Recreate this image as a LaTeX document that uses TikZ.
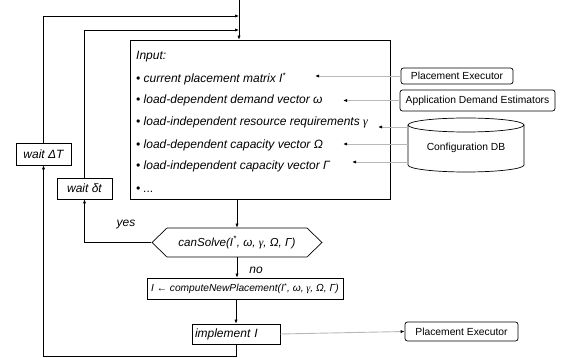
\documentclass[tikz,border=0pt]{standalone}
\usepackage{fontspec}
\setmainfont{Liberation Sans}
\newfontfamily\gamfont{Liberation Serif}
\usetikzlibrary{arrows.meta,shapes.symbols}
\newcommand{\gam}{{\gamfont\itshape γ}}
\newcommand{\Ist}{I\textsuperscript{*}}

\begin{document}
\begin{tikzpicture}[x=1pt,y=-1pt,
  every node/.style={font=\fontsize{12}{14}\selectfont\itshape},
  flow/.style={draw, line width=0.7pt, inner sep=0pt},
  item/.style={anchor=west, inner sep=0pt},
  ext/.style={draw, rounded corners=2.5pt, line width=0.7pt, inner sep=0pt,
    font=\fontsize{10.3}{12}\selectfont},
  link/.style={line width=0.7pt, -{Latex[length=4pt,width=3.2pt]}},
  feed/.style={draw=black!28, line width=0.9pt,
    -{Latex[length=4pt,width=3.2pt,color=black]}},
]
\useasboundingbox (0,0) rectangle (568,358);

% input box with its list of items
\node[flow, minimum width=260, minimum height=159] (input) at (260,119.5) {};
\node[item] (l0) at (136,57) {Input:};
\node[item] (l1) at (136,79) {• current placement matrix \Ist};
\node[item] (l2) at (136,100) {• load-dependent demand vector ω};
\node[item] (l3) at (136,122) {• load-independent resource requirements \gam};
\node[item] (l4) at (136,145) {• load-dependent capacity vector Ω};
\node[item] (l5) at (136,166) {• load-independent capacity vector Γ};
\node[item] (l6) at (136,190) {• ...};

% where the external feeds end
\coordinate (in1) at (315,76);
\coordinate (in2) at (343,100.5);
\coordinate (in3) at (378,127);
\coordinate (in4) at (343,144);
\coordinate (in5) at (352,162);

% external sources
\node[ext, minimum width=112, minimum height=16] (pe) at (457,76) {Placement Executor};
\node[ext, minimum width=155, minimum height=21] (ade) at (477.5,100.5) {Application Demand Estimators};
\draw[line width=0.7pt, fill=white] (408,125) -- (408,165)
  arc[start angle=180, end angle=360, x radius=58pt, y radius=7pt] -- (524,125);
\draw[line width=0.7pt] (466,125) ellipse[x radius=58pt, y radius=7pt];
\node[minimum width=116, inner sep=0pt, font=\fontsize{10.3}{12}\selectfont] (db) at (466,148) {Configuration DB};

% flow chart
\node[flow, minimum width=55, minimum height=22] (waitT) at (43.5,154) {wait ΔT};
\node[flow, minimum width=55, minimum height=21] (waitt) at (84.5,188.5) {wait δt};
\node[draw, line width=0.7pt, signal, signal to=west and east, signal pointer angle=88,
  minimum width=170, minimum height=29, inner sep=0pt,
  font=\fontsize{11.6}{14}\selectfont\itshape] (cansolve) at (237,242.5)
  {canSolve(\Ist, ω, \gam, Ω, Γ)};
\node[flow, minimum width=196, minimum height=21,
  font=\fontsize{10.2}{13}\selectfont\itshape] (compute) at (245,288.5)
  {I ← computeNewPlacement(\Ist, ω, \gam, Ω, Γ)};
\node[flow, text width=82pt, inner xsep=3pt, minimum height=20, align=left] (impl) at (236,334) {implement I};
\node[ext, minimum width=113, minimum height=19] (pe2) at (461.5,331.5) {Placement Executor};

\node (yes) at (126,225) {yes};
\node (no) at (256,270) {no};

% control flow
\coordinate (top) at (239,0);
\coordinate (joinT) at (239,16);
\coordinate (joint) at (239,30);
\draw[link] (top) -- (input.north -| top);
\draw[link] (waitT.north) |- (joinT);
\draw[link] (waitt.north) |- (joint);
\draw[link] (input.south -| cansolve.north) -- (cansolve.north);
\draw[link] (cansolve.south) -- (cansolve.south |- compute.north);
\draw[link] (compute.south -| impl) -- (impl.north);
\draw[link] (cansolve.west) -| (waitt.south);
\draw[link] (impl.south) -- ++(0,12) -| (waitT.south);

% data feeds
\draw[feed] (pe.west) -- (in1);
\draw[feed] (ade.west) -- (in2);
\draw[feed] (db.west |- in3) -- (in3);
\draw[feed] (db.west |- in4) -- (in4);
\draw[feed] (db.west |- in5) -- (in5);
\draw[feed] (impl.east) -- (pe2.west);
\end{tikzpicture}
\end{document}
